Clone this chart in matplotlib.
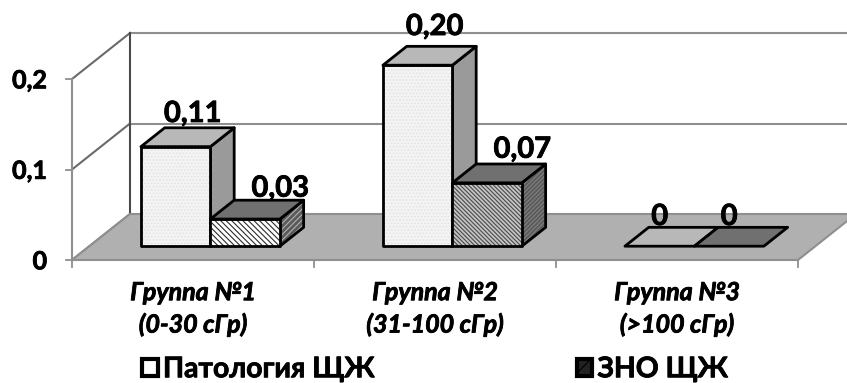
import numpy as np
import matplotlib as mpl
mpl.use('Agg')
import matplotlib.pyplot as plt
import matplotlib.patheffects as pe
from matplotlib.patches import Polygon, Patch

plt.rcParams['font.family'] = ['Lato', 'Open Sans', 'DejaVu Sans']
plt.rcParams['font.weight'] = 'bold'
plt.rcParams['hatch.linewidth'] = 0.8

# --- values
groups = ['Группа №1\n(0-30 сГр)', 'Группа №2\n(31-100 сГр)', 'Группа №3\n(>100 сГр)']
patologiya = [0.11, 0.20, 0]
zno = [0.03, 0.07, 0]
patologiya_labels = ['0,11', '0,20', '0']
zno_labels = ['0,03', '0,07', '0']
series_names = ['Патология ЩЖ', 'ЗНО ЩЖ']
yticks = [0, 0.1, 0.2]
ytick_labels = ['0', '0,1', '0,2']

# --- nudges of the value labels, they were moved by hand in the original
pat_label_dx = [0.07, 0.07, 0.0]
zno_label_dx = [0.145, 0.145, 0.0]
pat_label_dy = [0.0425, 0.0486, 0.0387]
zno_label_dy = [0.04, 0.043, 0.0387]

# --- fake 3D: how far back the depth axis goes, in data units
depth_x = 58 / 242
depth_y = 46 / 905
bar_w = 0.287
bar_gap = 0.213   # left edge of first bar inside a group
bar_front = 0.3   # depth of front of bar (fraction of floor depth)
bar_back = 0.71
y_top = 0.2

# the reference text is heavier than Lato bold
heavy = [pe.withStroke(linewidth=0.6, foreground='black')]


def proj(x, v, d):
    # oblique projection, d is 0 at front of floor and 1 at the back wall
    return (x + d * depth_x, v + d * depth_y)


fig = plt.figure(figsize=(8.47, 3.83), dpi=100)
ax = fig.add_axes((0, 0, 1, 1))
ax.set_xlim(-72 / 242, (847 - 72) / 242)
ax.set_ylim((260 - 383) / 905, 260 / 905)
ax.axis('off')

# --- floor and walls
n = len(groups)
ax.add_patch(Polygon([proj(0, 0, 0), proj(n, 0, 0), proj(n, 0, 1), proj(0, 0, 1)],
                     fc='#b0b0b0', ec='#8f8f8f', lw=1.5, zorder=1))
for t in yticks:
    ax.plot(*zip(proj(0, t, 0), proj(0, t, 1)), color='#6a6a6a', lw=1.5, zorder=0.9)
    if t > 0:
        ax.plot(*zip(proj(0, t, 1), proj(n, t, 1)), color='#8f8f8f', lw=1.5, zorder=0.9)
    ax.plot([-0.025, 0], [t, t], color='#8f8f8f', lw=1.3, zorder=0.9)
ax.plot(*zip(proj(0, 0, 0), proj(0, y_top, 0)), color='#8f8f8f', lw=1.5, zorder=0.9)
ax.plot(*zip(proj(0, 0, 1), proj(0, y_top, 1)), color='#4a4a4a', lw=1.5, zorder=0.9)
for i in range(n + 1):
    ax.plot([i, i], [0, -0.0075], color='#8f8f8f', lw=1.3, zorder=0.9)


def face(pts, fc, hatch=None, hc=None, z=2):
    if hatch:
        ax.add_patch(Polygon(pts, fc=fc, ec=hc, hatch=hatch, lw=0, zorder=z))
        ax.add_patch(Polygon(pts, fc='none', ec='black', lw=2.0, joinstyle='round', zorder=z + 0.1))
    else:
        ax.add_patch(Polygon(pts, fc=fc, ec='black', lw=2.0, joinstyle='round', zorder=z))


def bar3d(x, v, front, top, side, z):
    x2 = x + bar_w
    f, b = bar_front, bar_back
    if v > 0:
        face([proj(x2, 0, f), proj(x2, 0, b), proj(x2, v, b), proj(x2, v, f)], *side, z=z)
        face([proj(x, 0, f), proj(x2, 0, f), proj(x2, v, f), proj(x, v, f)], *front, z=z + 0.2)
    face([proj(x, v, f), proj(x2, v, f), proj(x2, v, b), proj(x, v, b)], *top, z=z + 0.4)


for i in range(n):
    x1 = i + bar_gap
    x2 = x1 + bar_w
    bar3d(x1, patologiya[i], ('#f4f4f4', '.....', '#e2e2e2'), ('#b8b8b8',), ('#9a9a9a',), 2 + i)
    if zno[i] > 0.05:
        front2 = ('#c4c4c4', '\\\\\\\\\\\\\\\\', '#4a4a4a')
        side2 = ('#5a5a5a', '////////', '#808080')
    else:
        front2 = ('#ffffff', '\\\\\\\\\\\\', '#2c2c2c')
        side2 = ('#5a5a5a', '//////', '#b0b0b0')
    bar3d(x2, zno[i], front2, ('#707070',), side2, 2.6 + i)

    # value labels sit just above top face of bars
    ax.text(x1 + bar_front * depth_x + bar_w / 2 + pat_label_dx[i],
            patologiya[i] + pat_label_dy[i], patologiya_labels[i], ha='center', va='baseline',
            fontsize=21, color='black', zorder=10, path_effects=heavy)
    ax.text(x2 + bar_front * depth_x + bar_w / 2 + zno_label_dx[i],
            zno[i] + zno_label_dy[i], zno_labels[i], ha='center', va='baseline',
            fontsize=21, color='black', zorder=10, path_effects=heavy)
    ax.text(i + 0.5, -0.054, groups[i], ha='center', va='center', fontsize=18,
            style='italic', linespacing=1.45, color='black', path_effects=heavy)

for t, lab in zip(yticks, ytick_labels):
    ax.text(-0.103, t - 0.002, lab, ha='right', va='center', fontsize=18, color='black',
            path_effects=heavy)

handles = [Patch(fc='white', ec='black', lw=3, label=series_names[0]),
           Patch(fc='#222222', ec='black', lw=3, hatch='//', label=series_names[1])]
leg = ax.legend(handles=handles, loc='lower left', bbox_to_anchor=(142 / 847, 0.002), ncols=2,
                frameon=False, fontsize=20.4, handlelength=0.56, handleheight=0.56,
                handletextpad=0.18, columnspacing=7.1, borderpad=0, borderaxespad=0)
for txt in leg.get_texts():
    txt.set_path_effects(heavy)

fig.savefig('out.png', dpi=100)
